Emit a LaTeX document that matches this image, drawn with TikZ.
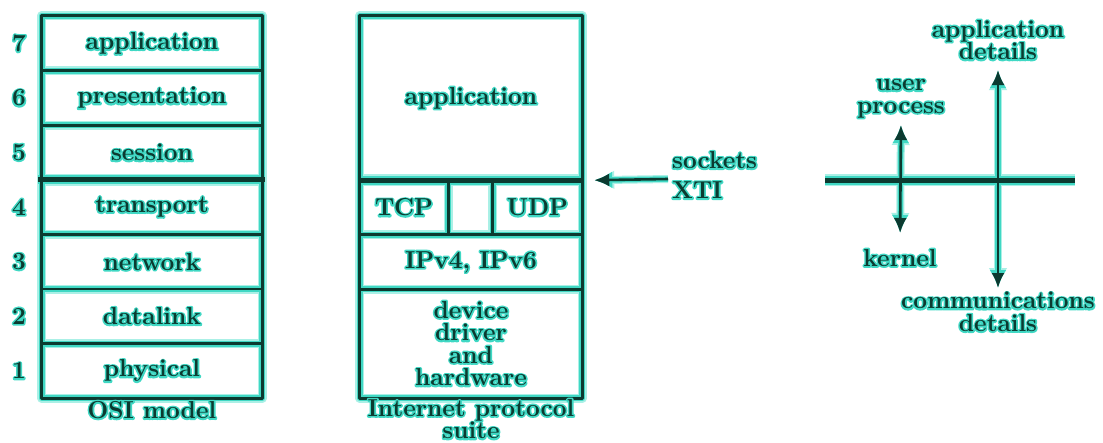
\documentclass[tikz,border=0pt]{standalone}
\usetikzlibrary{arrows.meta}
\definecolor{inkC}{RGB}{12,58,48}
\definecolor{glowC}{RGB}{64,216,196}
\definecolor{haloC}{RGB}{170,240,230}
\pgfdeclarelayer{background}
\pgfsetlayers{background,main}
% dark text over a turquoise stroked copy of itself (PDF text render mode 1)
\newcommand\gl[1]{\rlap{\special{pdf:literal direct 0.251 0.847 0.769 RG 3.2 w 1 j 1 Tr}#1\special{pdf:literal direct 0 Tr}}#1}
% every frame line, drawn with the given thin / thick style
\newcommand\frames[2]{%
  % OSI model stack
  \draw[#1] (osi7.north west) rectangle (osi1.south east);
  \foreach \n in {7,6,4,3,2} {\draw[#1] (osi\n.south west) -- (osi\n.south east);}
  \draw[#2] ([xshift=-4pt]osi5.south west) -- ([xshift=3pt]osi5.south east);
  % Internet protocol suite
  \draw[#1] (ipapp.north west) rectangle (dev.south east);
  \draw[#1] (tcp.north east) -- (tcp.south east);
  \draw[#1] (udp.north west) -- (udp.south west);
  \draw[#1] (ip.north west) -- (ip.north east);
  \draw[#1] (ip.south west) -- (ip.south east);
  \draw[#2] (ipapp.south west) -- (ipapp.south east);
  % user / kernel boundary
  \draw[#2] (hlw) -- (hle);
}
% the arrows, drawn with the given line style and tip
\newcommand\arrowset[2]{%
  \draw[#1, -{#2}] (sockin) -- ([xshift=12pt]ipapp.south east);
  \draw[#1, {#2}-{#2}, shorten <=7pt, shorten >=16pt] (user.south) -- (kernel.north);
  \draw[#1, {#2}-{#2}, shorten <=10pt, shorten >=4pt] (appd.south) -- (commd.north);
}
\begin{document}
\begin{tikzpicture}[x=1pt,y=-1pt,
  font=\fontsize{24.5}{22.5}\selectfont\bfseries, text=inkC,
  layer/.style={minimum width=220pt, minimum height=54.57pt, inner sep=0pt},
  num/.style={inner sep=0pt},
  lbl/.style={inner sep=0pt, align=center},
  halo/.style={draw=haloC, line width=9pt, line join=round},
  glowl/.style={draw=glowC, line width=6pt, line join=round},
  inkl/.style={draw=inkC, line width=2.8pt, line join=round}]
\begin{pgfonlayer}{background}
\fill[white] (0,0) rectangle (1103,442);
\end{pgfonlayer}
\path[use as bounding box] (0,0) rectangle (1103,442);

% OSI model layers
\node[layer] (osi7) at (152,43.3)  {\gl{application}};
\node[layer] (osi6) at (152,97.9)  {\gl{presentation}};
\node[layer] (osi5) at (152,152.4) {\gl{session}};
\node[layer] (osi4) at (152,207.0) {\gl{transport}};
\node[layer] (osi3) at (152,261.6) {\gl{network}};
\node[layer] (osi2) at (152,316.1) {\gl{datalink}};
\node[layer] (osi1) at (152,370.7) {\gl{physical}};
\foreach \n/\y in {7/43.3,6/97.9,5/152.4,4/207.0,3/261.6,2/316.1,1/370.7}
  {\node[num] (n\n) at (19,\y) {\gl{\n}};}
\node[lbl] (osicap) at (152,410) {\gl{OSI model}};

% Internet protocol suite
\node[inner sep=0pt, minimum width=222pt, minimum height=164pt] (ipapp) at (471,98) {\gl{application}};
\node[inner sep=0pt, minimum width=88pt, minimum height=55pt] (tcp) at (404,207.5) {\gl{TCP}};
\node[inner sep=0pt, minimum width=45pt, minimum height=55pt] (gap) at (470.5,207.5) {};
\node[inner sep=0pt, minimum width=89pt, minimum height=55pt] (udp) at (537.5,207.5) {\gl{UDP}};
\node[inner sep=0pt, minimum width=222pt, minimum height=54pt] (ip) at (471,262) {\gl{IPv4, IPv6}};
\node[lbl, minimum width=222pt, minimum height=109pt] (dev) at (471,343.5)
  {\gl{device}\\\gl{driver}\\\gl{and}\\\gl{hardware}};
\node[lbl] (ipcap) at (471,419) {\gl{Internet protocol}\\\gl{suite}};

% API label
\node[inner sep=0pt, align=left, anchor=west, font=\fontsize{24.5}{30}\selectfont\bfseries]
  (sockets) at (672,175) {\gl{sockets}\\\gl{XTI}};
\coordinate (sockin) at (668,179);

% user process / kernel and application / communications details
\coordinate (hlw) at (825,180);
\coordinate (hle) at (1075,180);
\node[lbl, anchor=south] (user) at (901,118) {\gl{user}\\\gl{process}};
\node[lbl, anchor=north] (kernel) at (900,249) {\gl{kernel}};
\node[lbl, anchor=south] (appd) at (998,60) {\gl{application}\\\gl{details}};
\node[lbl, anchor=north] (commd) at (998,292) {\gl{communications}\\\gl{details}};

% frames in three passes: soft halo, turquoise glow, dark ink
\begin{pgfonlayer}{background}
\frames{halo}{halo, line width=12pt}
\arrowset{halo, line width=8pt}{Latex[length=20pt,width=19pt]}
\frames{glowl}{glowl, line width=9pt}
\arrowset{glowl, line width=5.5pt}{Latex[length=18pt,width=17pt]}
\frames{inkl}{inkl, line width=5pt}
\arrowset{inkl, line width=2.6pt}{Latex[length=15pt,width=13pt]}
\end{pgfonlayer}
\end{tikzpicture}
\end{document}
